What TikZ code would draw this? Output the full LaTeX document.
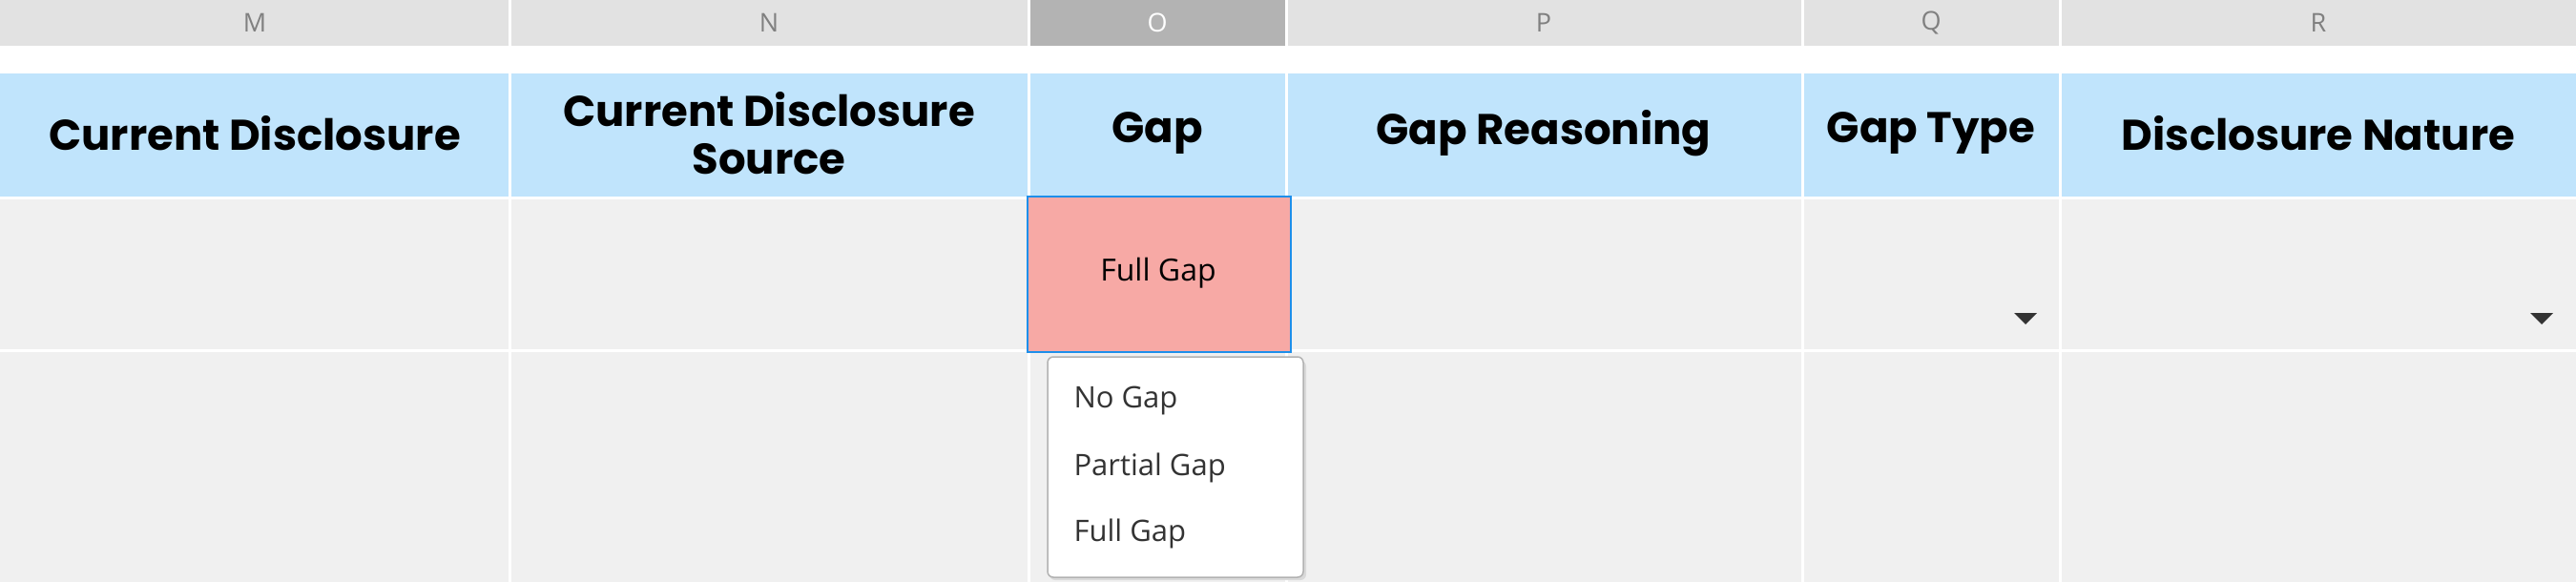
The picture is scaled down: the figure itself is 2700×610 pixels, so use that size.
\documentclass[tikz,border=0pt]{standalone}
\usepackage{fontspec}
\setmainfont{Open Sans}
\newfontfamily\hdrfont{Poppins}
\definecolor{lettbg}{HTML}{E2E2E2}
\definecolor{lettsel}{HTML}{B3B3B3}
\definecolor{hdrbg}{HTML}{C0E4FC}
\definecolor{cellbg}{HTML}{F0F0F0}
\definecolor{pinkbg}{HTML}{F7A9A5}
\definecolor{selblue}{HTML}{1E8FEA}
\definecolor{txtgrey}{HTML}{333333}
\begin{document}
\begin{tikzpicture}[x=1pt,y=-1pt,
  lett/.style={font=\fontsize{27}{27}\selectfont, text=gray},
  hdr/.style={font=\hdrfont\bfseries\fontsize{45}{50}\selectfont, align=center},
  item/.style={font=\fontsize{31}{31}\selectfont, text=txtgrey, anchor=west},
  sep/.style={white, line width=3pt}]
\useasboundingbox (0,0) rectangle (2700,610);
\fill[white] (0,0) rectangle (2700,610);
% letter row
\fill[lettbg] (0,0) rectangle (2700,48);
\fill[lettsel] (1078,0) rectangle (1348,48);
% header row
\fill[hdrbg] (0,77) rectangle (2700,207);
% body
\fill[cellbg] (0,207) rectangle (2700,610);
\draw[sep] (0,367) -- (2700,367);
\draw[sep] (0,207) -- (2700,207);
\foreach \x in {534,1078,1348,1889,2159} \draw[sep] (\x,0) -- (\x,610);
\node[lett] (lM) at (267,24) {M};
\node[lett] (lN) at (806,24) {N};
\node[lett, text=white] (lO) at (1213,24) {O};
\node[lett] (lP) at (1618,24) {P};
\node[lett] (lQ) at (2024,24) {Q};
\node[lett] (lR) at (2430,24) {R};
\node[hdr] (h1) at (267,140) {Current Disclosure};
\node[hdr] (h2) at (806,140) {Current Disclosure\\Source};
\node[hdr] (h3) at (1213,140) {Gap};
\node[hdr] (h4) at (1618,140) {Gap Reasoning};
\node[hdr] (h5) at (2024,140) {Gap Type};
\node[hdr] (h6) at (2430,140) {Disclosure Nature};
% selected cell
\fill[pinkbg] (1078,207) rectangle (1352,368);
\draw[selblue, line width=2.5pt] (1077,206) rectangle (1353,369);
\node[font=\fontsize{32}{32}\selectfont] (sel) at (1214,286) {Full Gap};
% triangles
\fill[txtgrey] (2111,328) -- (2135,328) -- (2123,340) -- cycle;
\fill[txtgrey] (2652,328) -- (2676,328) -- (2664,340) -- cycle;
% dropdown
\fill[black!15, rounded corners=6pt] (1100,378) rectangle (1369,608);
\draw[fill=white, draw=black!30, line width=1.5pt, rounded corners=6pt] (1098,374) rectangle (1366,605);
\node[item] (i1) at (1122,420) {No Gap};
\node[item] (i2) at (1122,490) {Partial Gap};
\node[item] (i3) at (1122,559) {Full Gap};
\end{tikzpicture}
\end{document}
